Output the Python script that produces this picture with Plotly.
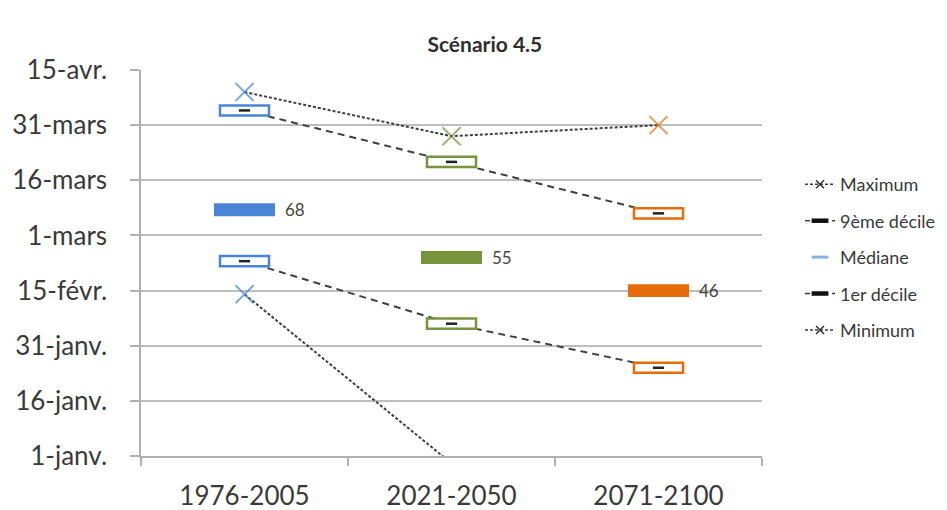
import plotly.graph_objects as go

# Périodes et dates clés (jours depuis le 1er janvier, numérotation Excel)
periodes = ["1976-2005", "2021-2050", "2071-2100"]
maximum = [100, 88, 91]
decile_9 = [95, 81, 67]
mediane = [68, 55, 46]
decile_1 = [54, 37, 25]
minimum = [45, -1, None]

jours_ticks = [1, 16, 31, 46, 61, 76, 91, 106]
jours_labels = ["1-janv.", "16-janv.", "31-janv.", "15-févr.",
                "1-mars", "16-mars", "31-mars", "15-avr."]

couleurs = ["#4A84D6", "#77933C", "#E46C0A"]

FONT = "Lato, 'Open Sans', sans-serif"
TXT = "#3A3A3A"
LIGNE = "#3F3F3F"
Y_RANGE = [1, 106]

# dimensions des rectangles (unités d'axe)
H_DEC, W_DEC = 2.75, 0.237
H_MED, W_MED = 3.5, 0.295

fig = go.Figure()

# --- lignes de liaison (axe principal, dessinées en dessous) ---
for vals, dash in [(maximum, "3px,2px"), (decile_9, "7px,5px"),
                   (decile_1, "7px,5px"), (minimum, "3px,2px")]:
    fig.add_trace(go.Scatter(
        x=periodes, y=vals, mode="lines", yaxis="y",
        line=dict(color=LIGNE, width=2, dash=dash),
        connectgaps=False, showlegend=False, hoverinfo="skip"))

# --- rectangles des déciles et barres des médianes (axe superposé) ---
for vals in (decile_9, decile_1):
    fig.add_trace(go.Bar(
        x=periodes, y=[H_DEC] * len(vals), base=[v - H_DEC / 2 for v in vals],
        width=W_DEC, yaxis="y2",
        marker=dict(color="white", line=dict(color=couleurs, width=2.5)),
        showlegend=False, hoverinfo="skip"))

fig.add_trace(go.Bar(
    x=periodes, y=[H_MED] * len(mediane), base=[v - H_MED / 2 for v in mediane],
    width=W_MED, yaxis="y2",
    marker=dict(color=couleurs, line=dict(width=0)),
    showlegend=False, hoverinfo="skip"))

# --- marqueurs (axe superposé au-dessus) ; rien n'est dessiné hors de l'échelle ---
def tailles(vals, s):
    return [s if (v is not None and v >= Y_RANGE[0]) else 0 for v in vals]

for vals in (maximum, minimum):
    fig.add_trace(go.Scatter(
        x=periodes, y=vals, mode="markers", yaxis="y3", cliponaxis=True,
        marker=dict(symbol="x-thin", size=tailles(vals, 18),
                    line=dict(color=couleurs, width=2)),
        showlegend=False, hoverinfo="skip"))

for vals in (decile_9, decile_1):
    fig.add_trace(go.Scatter(
        x=periodes, y=vals, mode="markers", yaxis="y3",
        marker=dict(symbol="line-ew", size=8, line=dict(color="#222222", width=2.5)),
        showlegend=False, hoverinfo="skip"))

# --- entrées de légende ---
legende = [
    ("Maximum", "3px,2px", "x-thin", 8, 1.5, "#333333", "lines+markers"),
    ("9ème décile", "5px,4px", "line-ew", 12, 4.5, "#111111", "lines+markers"),
    ("Médiane", None, "line-ew", 12, 3, "#8AAEDE", "markers"),
    ("1er décile", "5px,4px", "line-ew", 12, 4.5, "#111111", "lines+markers"),
    ("Minimum", "3px,2px", "x-thin", 8, 1.5, "#333333", "lines+markers"),
]
for i, (nom, dash, sym, size, lw, col, mode) in enumerate(legende):
    fig.add_trace(go.Scatter(
        x=[None], y=[None], mode=mode, name=nom, yaxis="y3",
        legendgroup=f"g{i}",
        line=dict(color=LIGNE, width=1.5, dash=dash or "solid"),
        marker=dict(symbol=sym, size=size, line=dict(color=col, width=lw))))

# --- étiquettes des médianes ---
for p, m in zip(periodes, mediane):
    fig.add_annotation(x=p, y=m, yref="y", text=str(m), showarrow=False,
                       xanchor="left", xshift=38,
                       font=dict(family=FONT, size=17, color="#444444"))

axe_cache = dict(range=Y_RANGE, overlaying="y", visible=False,
                 showgrid=False, fixedrange=True)

fig.update_layout(
    width=947, height=510,
    margin=dict(l=141, r=185, t=70, b=54, autoexpand=False),
    paper_bgcolor="white", plot_bgcolor="white",
    barmode="overlay",
    title=dict(text="<b>Scénario 4.5</b>", x=0.512, xref="container",
               xanchor="center", y=1 - 45 / 510, yref="container",
               yanchor="middle",
               font=dict(family=FONT, size=21, color="#2E2E2E")),
    font=dict(family=FONT, color=TXT),
    xaxis=dict(type="category", showgrid=False, showline=True,
               linecolor="#B0B0B0", linewidth=2, automargin=False,
               ticks="outside", tickson="boundaries", ticklen=8,
               tickcolor="#B0B0B0", tickwidth=1.5,
               tickfont=dict(family=FONT, size=26, color=TXT),
               ticklabelstandoff=16),
    yaxis=dict(range=Y_RANGE, tickmode="array", tickvals=jours_ticks,
               ticktext=jours_labels, showgrid=True, gridcolor="#BDBDBD",
               gridwidth=2, zeroline=False, showline=True,
               linecolor="#B0B0B0", linewidth=1.5, automargin=False,
               ticks="outside", ticklen=9, tickcolor="#B0B0B0", tickwidth=1.5,
               tickfont=dict(family=FONT, size=26, color=TXT),
               ticklabelstandoff=18),
    yaxis2=axe_cache,
    yaxis3=axe_cache,
    legend=dict(x=1.0612, xanchor="left", y=0.751, yanchor="top",
                traceorder="grouped", tracegroupgap=10,
                font=dict(family=FONT, size=18, color=TXT),
                bgcolor="rgba(0,0,0,0)"),
)

fig.write_html("out.html")
